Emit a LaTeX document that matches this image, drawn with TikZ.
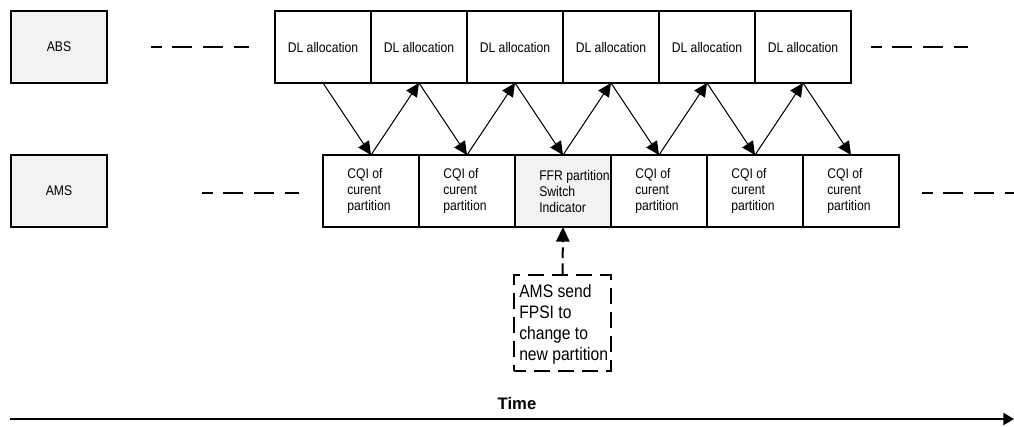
\documentclass[tikz,border=0pt]{standalone}
\usepackage{fontspec}
\setmainfont{Liberation Sans}
\newfontfamily\narrowsans[FakeStretch=0.87]{Liberation Sans}
\usetikzlibrary{arrows.meta}
\begin{document}
\begin{tikzpicture}[x=0.75pt,y=-0.75pt,
  slot/.style={draw,line width=1.5pt,minimum width=72pt,minimum height=54pt,
    inner sep=0pt,outer sep=0pt},
  agent/.style={slot,fill=black!5},
  slottext/.style={font=\narrowsans\fontsize{10.5pt}{12pt}\selectfont,
    align=left,inner sep=0pt,anchor=west},
  dltext/.style={font=\narrowsans\fontsize{10.5pt}{12pt}\selectfont,inner sep=0pt},
  msg/.style={line width=0.75pt,-{Triangle[length=10pt,width=9.5pt]}},
  gap/.style={line width=1.5pt,dash pattern=on 15pt off 8pt,dash phase=7pt},
  notebox/.style={draw,line width=1.5pt,dash pattern=on 12pt off 6pt,dash phase=3pt,
    minimum width=72.75pt,minimum height=72pt,inner sep=0pt}]
\useasboundingbox (0,0) rectangle (1014,426);

% station labels
\node[agent] (abs) at (59,47) {};
\node[dltext] at (abs.center) {ABS};
\node[agent] (ams) at (59,191) {};
\node[dltext] at (ams.center) {AMS};

% downlink allocations (ABS)
\foreach \i in {1,...,6}{
  \node[slot] (dl\i) at ({323+96*(\i-1)},47) {};
  \node[dltext] at (dl\i.center) {DL allocation};
}

% feedback slots (AMS)
\foreach \i in {1,2,4,5,6}{
  \node[slot] (cq\i) at ({371+96*(\i-1)},191) {};
  \node[slottext] at ([xshift=18pt]cq\i.west) {CQI of\\curent\\partition};
}
\node[agent] (cq3) at (563,191) {};
\node[slottext] at ([xshift=18pt]cq3.west) {FFR partition\\Switch\\Indicator};

% allocation / report exchange
\foreach \i in {1,...,6}{
  \draw[msg] (dl\i.south) -- (cq\i.north);
}
\foreach \i/\j in {1/2,2/3,3/4,4/5,5/6}{
  \draw[msg] (cq\i.north) -- (dl\j.south);
}

% continuation marks
\coordinate (a1) at (151,47);  \coordinate (a2) at (249,47);
\coordinate (a3) at (871,47);  \coordinate (a4) at (968,47);
\coordinate (b1) at (202,193); \coordinate (b2) at (299,193);
\coordinate (b3) at (922,193); \coordinate (b4) at (1016,193);
\draw[gap] (a1) -- (a2);
\draw[gap] (a3) -- (a4);
\draw[gap] (b1) -- (b2);
\draw[gap] (b3) -- (b4);

% FPSI note
\node[notebox] (note) at (562.5,323) {};
\node[font=\narrowsans\fontsize{13.5pt}{15.75pt}\selectfont,align=left,
  inner sep=0pt,anchor=west] at (519,324)
  {AMS send\\FPSI to\\change to\\new partition};
\draw[line width=1.5pt,dash pattern=on 8pt off 4pt,
  -{Triangle[length=11pt,width=10pt]}] (note.north) -- (cq3.south);

% time axis
\coordinate (t0) at (10,419);
\coordinate (t1) at (1014,419);
\draw[line width=1.75pt,-{Triangle[length=8pt,width=9pt]}] (t0) -- (t1);
\node[font=\bfseries\fontsize{12.5pt}{14pt}\selectfont,inner sep=0pt] (time) at (517,404) {Time};
\end{tikzpicture}
\end{document}
